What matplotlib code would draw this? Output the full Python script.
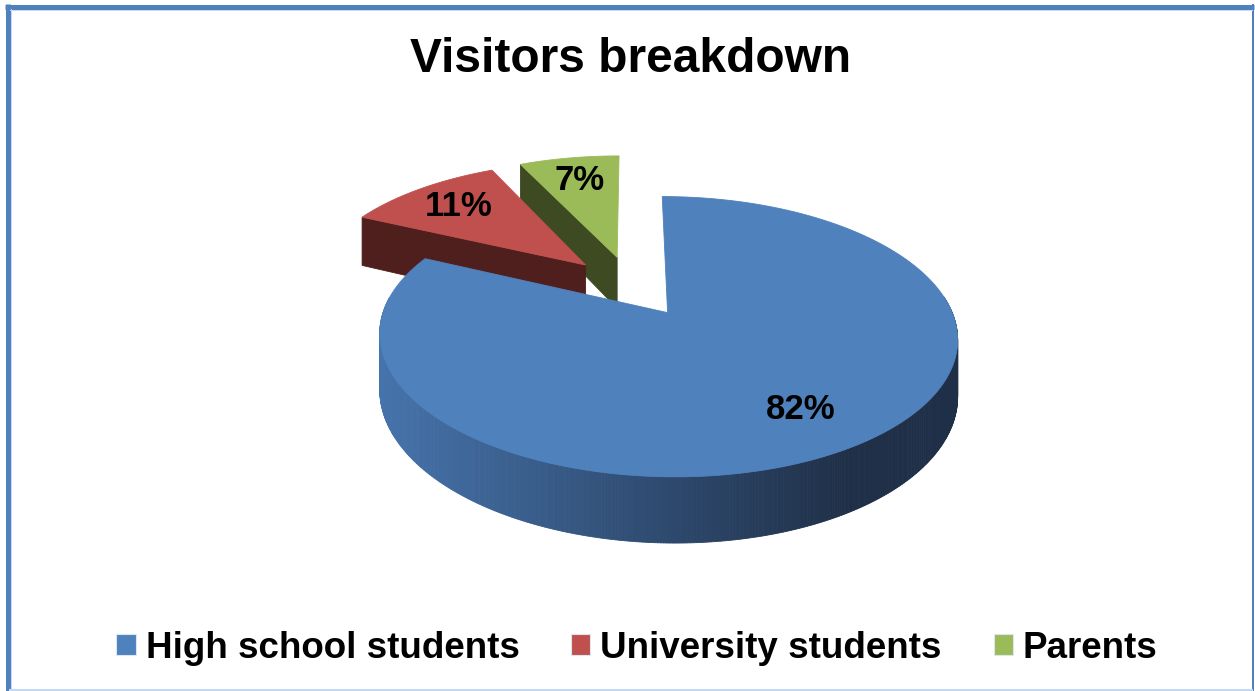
import numpy as np
import matplotlib.pyplot as plt
from matplotlib.patches import Polygon, Patch
from matplotlib.colors import to_rgb

plt.rcParams['font.family'] = ['Liberation Sans', 'DejaVu Sans']

# chart data
categories = ['High school students', 'University students', 'Parents']
shares = [82, 11, 7]
explode = [0.24, 0.24, 0.24]

top_colors = ['#4F81BD', '#C0504D', '#9BBB59']
side_colors = ['#2A4266', '#4F1F1E', '#3D4A22']
# the blue wall is shaded left -> right
wall_light, wall_dark = '#4573AB', '#1F2F47'

W, H = 1255, 691
fig = plt.figure(figsize=(W / 100, H / 100), dpi=100)
ax = fig.add_axes([0, 0, 1, 1])
ax.set_xlim(0, W)
ax.set_ylim(H, 0)
ax.axis('off')

# simple perspective camera for the 3-D pie (unit radius, depth 1)
CX, CY = 631, 286
A, B, K, DEPTH = 275, 127, 0.166, 53


def proj(X, Y, Z=0.0):
    w = 1 + K * np.asarray(Y)
    return CX + A * np.asarray(X) / w, CY - (B * np.asarray(Y) + DEPTH * Z) / w


def mix(c1, c2, f):
    a, b = np.array(to_rgb(c1)), np.array(to_rgb(c2))
    return tuple(a + (b - a) * f)


fracs = np.array(shares) / sum(shares)
bounds = 90 - 360 * np.concatenate([[0], np.cumsum(fracs)])

slices = []
for i, v in enumerate(shares):
    a0, a1 = bounds[i], bounds[i + 1]
    mid = np.radians((a0 + a1) / 2)
    ox, oy = explode[i] * np.cos(mid), explode[i] * np.sin(mid)
    slices.append((i, a0, a1, mid, ox, oy))

# far slices first
slices.sort(key=lambda s: -s[5])

z = 2
for i, a0, a1, mid, ox, oy in slices:
    n = max(int(abs(a0 - a1)) * 2, 4)
    t = np.radians(np.linspace(a0, a1, n))
    rx, ry = ox + np.cos(t), oy + np.sin(t)
    tx, ty = proj(rx, ry, 0)
    bx, by = proj(rx, ry, -1)

    # outer wall, only the part facing the viewer
    segs = []
    for j in range(n - 1):
        tm = (t[j] + t[j + 1]) / 2
        if np.sin(tm) < 0.12:
            quad = [(tx[j], ty[j]), (tx[j + 1], ty[j + 1]),
                    (bx[j + 1], by[j + 1]), (bx[j], by[j])]
            if i == 0:
                f = np.clip((tx[j] - 383) / (850 - 383), 0, 1)
                col = mix(wall_light, wall_dark, f)
            else:
                col = side_colors[i]
            segs.append((np.sin(tm), quad, col))
    segs.sort(key=lambda s: -s[0])
    for _, quad, col in segs:
        ax.add_patch(Polygon(quad, closed=True, fc=col, ec=col, lw=0.6, zorder=z))
    z += 1

    # radial cut faces
    ax0, ay0 = proj(ox, oy, 0)
    ax1, ay1 = proj(ox, oy, -1)
    for edge, normal in ((a0, a0 + 90), (a1, a1 - 90)):
        if np.sin(np.radians(normal)) < -0.05:
            ex, ey = ox + np.cos(np.radians(edge)), oy + np.sin(np.radians(edge))
            px0, py0 = proj(ex, ey, 0)
            px1, py1 = proj(ex, ey, -1)
            face = [(ax0, ay0), (px0, py0), (px1, py1), (ax1, ay1)]
            ax.add_patch(Polygon(face, closed=True, fc=side_colors[i],
                                 ec=side_colors[i], lw=0.6, zorder=z))
            z += 1

    # top face
    top = [(ax0, ay0)] + list(zip(tx, ty))
    ax.add_patch(Polygon(top, closed=True, fc=top_colors[i], ec=top_colors[i],
                         lw=0.6, zorder=z))
    z += 1

    # value label
    r_lab = 0.75
    lx, ly = proj(ox + r_lab * np.cos(mid), oy + r_lab * np.sin(mid), 0)
    ax.text(lx, ly, f'{shares[i]}%', ha='center', va='center', fontsize=25,
            fontweight='bold', color='black', zorder=50)

fig.text(631 / W, 1 - 72 / H, 'Visitors breakdown', ha='center', va='baseline',
         fontsize=34.5, fontweight='bold')

handles = [Patch(facecolor=c, edgecolor='#DCE6F2', linewidth=0.8) for c in top_colors]
fig.legend(handles, categories, loc='center', bbox_to_anchor=(637 / W, 1 - 648 / H),
           ncol=3, frameon=False, prop={'weight': 'bold', 'size': 26.5},
           handlelength=0.52, handleheight=0.52, handletextpad=0.27,
           columnspacing=1.41, borderpad=0, borderaxespad=0)

# chart frame
blue = '#4F81BD'
ax.plot([7.5, 7.5], [4, H], color=blue, lw=5 * 0.72, solid_capstyle='butt', zorder=60)
ax.plot([5, 1254], [6.5, 6.5], color=blue, lw=5 * 0.72, solid_capstyle='butt', zorder=60)
ax.plot([1253, 1253], [4, H], color=blue, lw=2 * 0.72, solid_capstyle='butt', zorder=60)
ax.plot([10.5, 10.5], [9, H], color='#C6D9F1', lw=0.72, zorder=60)
ax.plot([10, 1252], [9.5, 9.5], color='#C6D9F1', lw=0.72, zorder=60)
ax.plot([10, 1252], [689.5, 689.5], color='#C6D9F1', lw=1.5, zorder=60)

fig.savefig('out.png', dpi=100)
